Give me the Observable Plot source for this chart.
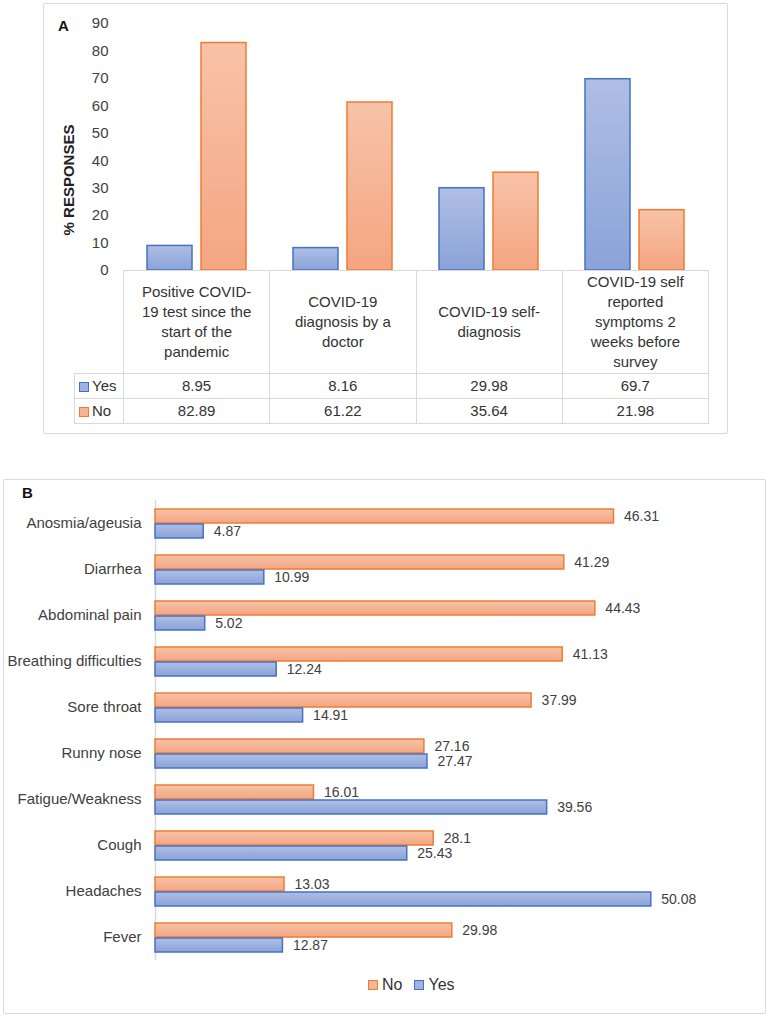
<!DOCTYPE html>
<html>
<head>
<meta charset="utf-8">
<script src="https://cdn.jsdelivr.net/npm/d3@7"></script>
<script src="https://cdn.jsdelivr.net/npm/@observablehq/plot@0.6"></script>
<style>
  body { margin: 0; background: #fff; font-family: "Liberation Sans", Arial, sans-serif; color: #333; }
  #root { position: relative; width: 770px; height: 1017px; overflow: hidden; background: #fff; }
  .box { position: absolute; border: 1.5px solid #d9d9d9; box-sizing: border-box; border-radius: 2px; }
  .plot { position: absolute; }
  .panel-label { position: absolute; font-weight: bold; font-size: 15px; color: #111; }
  #titleA { position: absolute; left: 68px; top: 180px; transform: translate(-50%, -50%) rotate(-90deg);
            font-weight: bold; font-size: 15px; color: #222; white-space: nowrap; }
  #tableA { position: absolute; left: 74px; top: 270px; border-collapse: collapse; table-layout: fixed;
            width: 634px; font-size: 15px; color: #333; }
  #tableA td { border: 1.5px solid #d9d9d9; text-align: center; vertical-align: middle; padding: 0;
               white-space: pre-line; line-height: 20px; }
  #tableA td.blank { border-top: none; border-left: none; }
  #tableA tr.head td { height: 102px; }
  #tableA tr.data td { height: 24px; }
  #tableA td.leg { text-align: left; padding-left: 4px; white-space: nowrap; }
  .sw { display: inline-block; width: 8px; height: 8px; border: 1.5px solid; margin-right: 3px; vertical-align: -1px; }
  #legendB { position: absolute; left: 368px; top: 976px; font-size: 16px; color: #333; display: flex; align-items: center; }
  #legendB span.item { display: flex; align-items: center; margin-right: 12px; }
</style>
</head>
<body>
<div id="root">
  <svg width="0" height="0" style="position:absolute">
    <defs>
      <linearGradient id="gYes" x1="0" y1="0" x2="0" y2="1">
        <stop offset="0" stop-color="#afbee4"/>
        <stop offset="1" stop-color="#8aa3d8"/>
      </linearGradient>
      <linearGradient id="gNo" x1="0" y1="0" x2="0" y2="1">
        <stop offset="0" stop-color="#f8c3a8"/>
        <stop offset="1" stop-color="#f4a582"/>
      </linearGradient>
    </defs>
  </svg>
  <div class="box" style="left:43px;top:3px;width:685px;height:431px"></div>
  <div class="plot" id="plotA" style="left:43px;top:3px"></div>
  <div class="panel-label" style="left:58px;top:17px">A</div>
  <div id="titleA">% RESPONSES</div>
  <table id="tableA"></table>

  <div class="box" style="left:3px;top:479px;width:763px;height:535px"></div>
  <div class="plot" id="plotB" style="left:3px;top:479px"></div>
  <div class="panel-label" style="left:22px;top:484px">B</div>
  <div id="legendB"></div>
</div>
<script>
// ---------- Panel A data ----------
const catA = [
  "Positive COVID-\n19 test since the\nstart of the\npandemic",
  "COVID-19\ndiagnosis by a\ndoctor",
  "COVID-19 self-\ndiagnosis",
  "COVID-19 self\nreported\nsymptoms 2\nweeks before\nsurvey"
];
const yesA = [8.95, 8.16, 29.98, 69.7];
const noA = [82.89, 61.22, 35.64, 21.98];
const yTicksA = [0, 10, 20, 30, 40, 50, 60, 70, 80, 90];
const seriesA = ["Yes", "No"];

// ---------- Panel B data ----------
const catB = ["Anosmia/ageusia", "Diarrhea", "Abdominal pain", "Breathing difficulties", "Sore throat",
              "Runny nose", "Fatigue/Weakness", "Cough", "Headaches", "Fever"];
const noB = [46.31, 41.29, 44.43, 41.13, 37.99, 27.16, 16.01, 28.1, 13.03, 29.98];
const yesB = [4.87, 10.99, 5.02, 12.24, 14.91, 27.47, 39.56, 25.43, 50.08, 12.87];
const seriesB = ["No", "Yes"];

const colors = {
  Yes: {fill: "url(#gYes)", stroke: "#4472c4", swatch: "#9fb2e0"},
  No: {fill: "url(#gNo)", stroke: "#ed7d31", swatch: "#f6b597"}
};
const font = '"Liberation Sans", Arial, sans-serif';

// ---------- Panel A chart ----------
const dataA = catA.flatMap((c, i) => [
  {cat: c, series: "Yes", value: yesA[i]},
  {cat: c, series: "No", value: noA[i]}
]);

const plotA = Plot.plot({
  width: 685,
  height: 268,
  marginLeft: 80,
  marginRight: 20,
  marginTop: 20,
  marginBottom: 1,
  style: {fontFamily: font, fontSize: "15px", color: "#404040", background: "transparent", overflow: "visible"},
  fx: {domain: catA, padding: 0, axis: null},
  x: {domain: seriesA, paddingInner: 0.164, paddingOuter: 0.41, axis: null},
  y: {domain: [0, 90], axis: null},
  marks: [
    Plot.axisY(yTicksA, {tickSize: 0, tickPadding: 16, label: null, fontSize: 15, fill: "#404040"}),
    ...seriesA.map(s => Plot.barY(dataA.filter(d => d.series === s), {
      fx: "cat", x: "series", y: "value",
      fill: colors[s].fill, stroke: colors[s].stroke, strokeWidth: 1.5
    }))
  ]
});
document.getElementById("plotA").appendChild(plotA);

// ---------- Panel A data table ----------
const table = d3.select("#tableA");
const cg = table.append("colgroup");
cg.append("col").style("width", "49px");
catA.forEach(() => cg.append("col").style("width", "146.25px"));
const head = table.append("tr").attr("class", "head");
head.append("td").attr("class", "blank");
head.selectAll("td.h").data(catA).join("td").attr("class", "h").text(d => d);
[["Yes", yesA], ["No", noA]].forEach(([name, vals]) => {
  const tr = table.append("tr").attr("class", "data");
  const leg = tr.append("td").attr("class", "leg");
  leg.append("span").attr("class", "sw")
    .style("background", colors[name].swatch).style("border-color", colors[name].stroke);
  leg.append("span").text(name);
  vals.forEach(v => tr.append("td").text(String(v)));
});

// ---------- Panel B chart ----------
const dataB = catB.flatMap((c, i) => [
  {cat: c, series: "No", value: noB[i]},
  {cat: c, series: "Yes", value: yesB[i]}
]);

const plotB = Plot.plot({
  width: 763,
  height: 501,
  marginLeft: 152,
  marginRight: 17,
  marginTop: 21,
  marginBottom: 20,
  style: {fontFamily: font, fontSize: "15px", color: "#404040", background: "transparent", overflow: "visible"},
  fy: {domain: catB, padding: 0, axis: null},
  y: {domain: seriesB, paddingInner: 0.1, paddingOuter: 0.58, axis: null},
  x: {domain: [0, 60], axis: null},
  marks: [
    Plot.axisFy({anchor: "left", tickSize: 0, tickPadding: 14, label: null, fontSize: 15, fill: "#404040"}),
    Plot.ruleX([0], {stroke: "#d9d9d9", strokeWidth: 1.5}),
    ...seriesB.map(s => Plot.barX(dataB.filter(d => d.series === s), {
      fy: "cat", y: "series", x: "value",
      fill: colors[s].fill, stroke: colors[s].stroke, strokeWidth: 1.5
    })),
    Plot.text(dataB, {
      fy: "cat", y: "series", x: "value", text: d => String(d.value),
      dx: 10, textAnchor: "start", fontSize: 14, fill: "#404040"
    })
  ]
});
document.getElementById("plotB").appendChild(plotB);

// ---------- Panel B legend ----------
const legend = d3.select("#legendB");
seriesB.forEach(s => {
  const item = legend.append("span").attr("class", "item");
  item.append("span").attr("class", "sw")
    .style("background", colors[s].swatch).style("border-color", colors[s].stroke)
    .style("margin-right", "4px");
  item.append("span").text(s);
});
</script>
</body>
</html>
